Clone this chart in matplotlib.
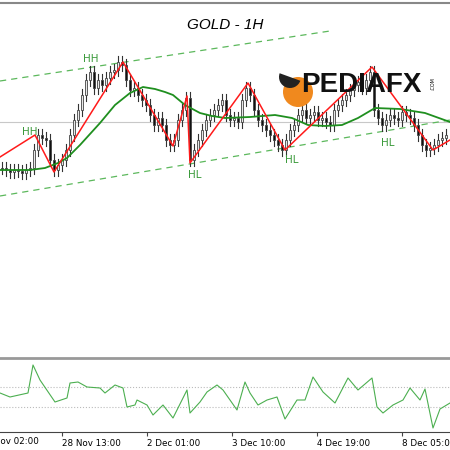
import matplotlib
matplotlib.use("Agg")
import matplotlib.pyplot as plt
from matplotlib.patches import Rectangle, Wedge
import matplotlib.transforms as mtransforms

# close levels (chart-pixel units, smaller = higher price)
closes = [168,170,172,170,171,173,170,168,150,135,138,140,160,170,165,160,150,135,120,110,95,80,72,
          88,80,85,78,72,70,62,65,80,90,88,95,100,105,115,125,118,125,140,145,140,120,110,98,160,
          150,140,130,120,115,110,105,100,115,120,118,122,100,88,95,110,120,125,130,135,140,145,150,
          140,130,125,115,110,118,115,112,120,118,122,125,110,105,100,95,90,85,82,88,80,72,
          110,118,125,120,115,118,120,112,115,118,125,135,145,150,148,145,140,138,135]
zig_x = [0,35,54,123,173,187,190,248,285,372,433,450]
zig_y = [157,135,172,62,146,96,163,83,150,67,150,140]
ma_x = [0,30,45,58,67,80,100,115,130,143,155,165,173,185,200,212,225,250,275,292,308,325,342,358,375,400,425,450]
ma_y = [170,170,168,163,158,145,123,105,93,87,89,92,95,105,113,116,118,117,115,118,125,126,125,118,108,109,113,122]
labels = [("HH",30,132),("HH",91,59),("HL",195,175),("HL",292,160),("HL",388,143)]
osc_x = [0,10,28,33,40,55,67,70,78,87,100,105,115,123,127,135,137,147,153,163,173,187,190,200,207,217,223,237,245,250,258,267,277,285,297,305,313,323,335,348,358,372,377,383,393,403,410,420,425,433,440,450]
osc_y = [393,397,393,365,380,402,398,383,382,387,388,393,385,388,407,405,400,405,415,405,418,390,413,402,392,385,390,410,382,393,405,400,397,419,400,400,377,392,403,378,390,378,407,413,405,400,388,400,389,428,409,403]
tick_x = [-20,62,147,232,317,402]
tick_labels = ["27 Nov 02:00","28 Nov 13:00","2 Dec 01:00","3 Dec 10:00","4 Dec 19:00","8 Dec 05:00"]

fig = plt.figure(figsize=(4.5,4.5), dpi=100)
ax = fig.add_axes([0, 95/450, 1, 353/450])
ax.set_xlim(0,450); ax.set_ylim(355,2)
ax.axis("off")
ax.axhline(122, color="#c8c8c8", lw=0.8)
ax.plot([0,330],[81,31], ls=(0,(5,4)), color="#5cb85c", lw=0.9)
ax.plot([0,450],[196,120], ls=(0,(5,4)), color="#5cb85c", lw=0.9)
prev = closes[0]
for i,c in enumerate(closes):
    x = 4*i+2
    o = prev
    lo, hi = max(o,c)+6, min(o,c)-6
    ax.plot([x,x],[lo,hi], color="#333333", lw=0.8, zorder=2)
    up = c < o
    h = max(abs(c-o),1.5)
    ax.add_patch(Rectangle((x-1.4,min(o,c)),2.8,h, facecolor="#e8e8e8" if up else "#111111",
                           edgecolor="#444444", lw=0.6, zorder=3))
    prev = c
ax.plot(ma_x, ma_y, color="#1f8f1f", lw=1.3, zorder=4)
ax.plot(zig_x, zig_y, color="#ff1a1a", lw=1.1, zorder=5)
for t,x,y in labels:
    ax.text(x,y,t,color="#3a9a3a",fontsize=7.5,ha="center",va="center",zorder=6)
ax.text(225,25,"GOLD - 1H",fontsize=11,style="italic",ha="center",va="center",family="Liberation Sans")
ax.add_patch(Wedge((298,92),15,0,360,facecolor="#f0891e",zorder=7))
ax.add_patch(Wedge((290,77),11,20,200,facecolor="#222222",zorder=8))
ax.text(301,85,"PEDIAFX",fontsize=20,weight="bold",color="#111111",ha="left",va="center",zorder=9,family="Liberation Sans")
ax.text(433,84,".COM",fontsize=3.5,rotation=90,ha="center",va="center",zorder=9)

fig.add_artist(plt.Line2D([0,1],[1-3/450,1-3/450], color="#888888", lw=1.5))
fig.add_artist(plt.Line2D([0,1],[1-358/450,1-358/450], color="#999999", lw=2))

ax2 = fig.add_axes([0, 18/450, 1, 70/450])
ax2.set_xlim(0,450); ax2.set_ylim(432,362)
for s in ["left","right","top"]:
    ax2.spines[s].set_visible(False)
ax2.spines["bottom"].set_color("#444444")
ax2.axhline(387, color="#bbbbbb", ls=":", lw=0.8)
ax2.axhline(407, color="#bbbbbb", ls=":", lw=0.8)
ax2.plot(osc_x, osc_y, color="#4caf50", lw=0.8, clip_on=False)
ax2.set_yticks([])
ax2.set_xticks(tick_x[1:])
ax2.set_xticklabels(tick_labels[1:], fontsize=6.3, ha="left")
ax2.tick_params(axis="x", length=3, pad=2, color="#444444")
trans = mtransforms.blended_transform_factory(ax2.transData, ax2.transAxes)
ax2.text(tick_x[0], -0.07, tick_labels[0], fontsize=6.3, ha="left", va="top", transform=trans, clip_on=False)
fig.savefig("out.png", dpi=100, facecolor="white")
